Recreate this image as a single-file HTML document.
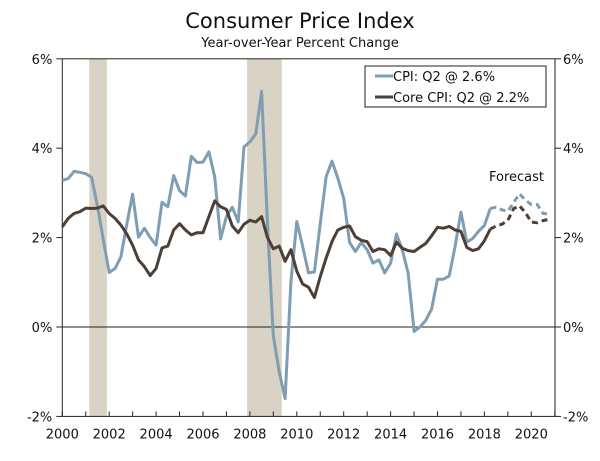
<!DOCTYPE html>
<html><head><meta charset="utf-8"><style>
body{margin:0;background:#fff;}
svg text{font-family:"DejaVu Sans","Liberation Sans",sans-serif;fill:#111;}
</style></head><body>
<svg id="chart" width="600" height="456" viewBox="0 0 600 456">
<text x="300" y="28" text-anchor="middle" font-size="21">Consumer Price Index</text>
<text x="300" y="47" text-anchor="middle" font-size="13">Year-over-Year Percent Change</text>
<g id="rec"></g><g id="axes"></g><g id="lines"></g>
<g>
<rect x="365" y="66" width="181" height="41" fill="#fff" stroke="#222" stroke-width="1"/>
<line x1="375" y1="76" x2="393" y2="76" stroke="#7f9db3" stroke-width="3"/>
<text x="393" y="81" font-size="13">CPI: Q2 @ 2.6%</text>
<line x1="375" y1="97" x2="393" y2="97" stroke="#4d3f35" stroke-width="3"/>
<text x="393" y="102" font-size="13">Core CPI: Q2 @ 2.2%</text>
</g>
<text x="489" y="181" font-size="13">Forecast</text>
</svg>
<script>
const cpi=[3.28,3.32,3.48,3.46,3.43,3.35,2.7,1.95,1.22,1.31,1.57,2.3,2.97,2.01,2.21,2.0,1.83,2.79,2.69,3.39,3.05,2.93,3.82,3.68,3.69,3.92,3.36,1.97,2.47,2.68,2.35,4.03,4.14,4.32,5.27,2.3,-0.2,-1.0,-1.6,1.0,
2.36,1.8,1.21,1.23,2.32,3.36,3.71,3.33,2.88,1.89,1.69,1.89,1.73,1.43,1.5,1.21,1.43,2.08,1.73,1.2,-0.1,0.0,0.15,0.4,1.07,1.07,1.14,1.8,2.57,1.9,1.98,2.14,2.27,2.65];
const cpiForecast=[2.68,2.62,2.59,2.79,2.98,2.84,2.74,2.74,2.54,2.53];
const core=[2.24,2.43,2.54,2.58,2.66,2.65,2.66,2.71,2.54,2.43,2.28,2.08,1.83,1.5,1.35,1.15,1.31,1.77,1.81,2.17,2.31,2.17,2.06,2.11,2.11,2.47,2.82,2.69,2.63,2.26,2.11,2.3,2.39,2.35,2.47,2.0,1.75,1.81,1.47,1.73,
1.25,0.96,0.89,0.66,1.13,1.54,1.91,2.17,2.23,2.26,2.02,1.94,1.91,1.69,1.75,1.73,1.6,1.9,1.76,1.71,1.69,1.78,1.87,2.04,2.23,2.21,2.25,2.17,2.14,1.78,1.71,1.75,1.93,2.19];
const coreForecast=[2.26,2.3,2.39,2.65,2.71,2.56,2.35,2.33,2.38,2.41];
const recessions=[[2001.15,2001.9],[2007.88,2009.36]];
const yTicks=[-2,0,2,4,6];
const xTicks=[2000,2002,2004,2006,2008,2010,2012,2014,2016,2018,2020];
const startYear=2000;
const NS="http://www.w3.org/2000/svg";
const X=y=>62.3+(y-2000)*23.45;
const Y=v=>327-v*44.7;
const L=62.3,R=555,T=Y(6),B=Y(-2);
function mk(tag,attrs,parent){const e=document.createElementNS(NS,tag);for(const k in attrs)e.setAttribute(k,attrs[k]);document.getElementById(parent).appendChild(e);return e;}
recessions.forEach(r=>{const e=mk('rect',{x:X(r[0]),y:T,width:X(r[1])-X(r[0]),height:B-T,fill:'#d8d3c4'},'rec');

});
let e;
e=mk('rect',{x:L,y:T,width:R-L,height:B-T,fill:'none',stroke:'#222','stroke-width':1},'axes');


e=mk('line',{x1:L,x2:R,y1:Y(0),y2:Y(0),stroke:'#222','stroke-width':1},'axes');


yTicks.forEach(v=>{
mk('line',{x1:L-6,x2:L,y1:Y(v),y2:Y(v),stroke:'#222'},'axes');
mk('line',{x1:R,x2:R+6,y1:Y(v),y2:Y(v),stroke:'#222'},'axes');
e=mk('text',{x:L-10,y:Y(v)+5,'text-anchor':'end','font-size':13},'axes');e.textContent=v+'%';


e=mk('text',{x:R+8,y:Y(v)+5,'font-size':13},'axes');e.textContent=v+'%';

});
for(let y=2000;y<=2021;y++)mk('line',{x1:X(y),x2:X(y),y1:B,y2:B-5,stroke:'#222'},'axes');
xTicks.forEach(y=>{e=mk('text',{x:X(y),y:B+22,'text-anchor':'middle','font-size':13},'axes');e.textContent=y;

});
function pts(arr,off){return arr.map((v,i)=>X(startYear+(i+off)*0.25).toFixed(1)+','+Y(v).toFixed(1)).join(' ');}
function draw(arr,off,color,dash,name){const e=mk('polyline',{points:pts(arr,off),fill:'none',stroke:color,'stroke-width':3,'stroke-linejoin':'round'},'lines');if(dash)e.setAttribute('stroke-dasharray','6,4');

}
draw(cpi,0,'#7f9db3',false,'cpi-line');
draw([cpi[cpi.length-1]].concat(cpiForecast),cpi.length-1,'#7f9db3',true,'cpi-forecast-line');
draw(core,0,'#4d3f35',false,'core-cpi-line');
draw([core[core.length-1]].concat(coreForecast),core.length-1,'#4d3f35',true,'core-cpi-forecast-line');
</script>
</body></html>
